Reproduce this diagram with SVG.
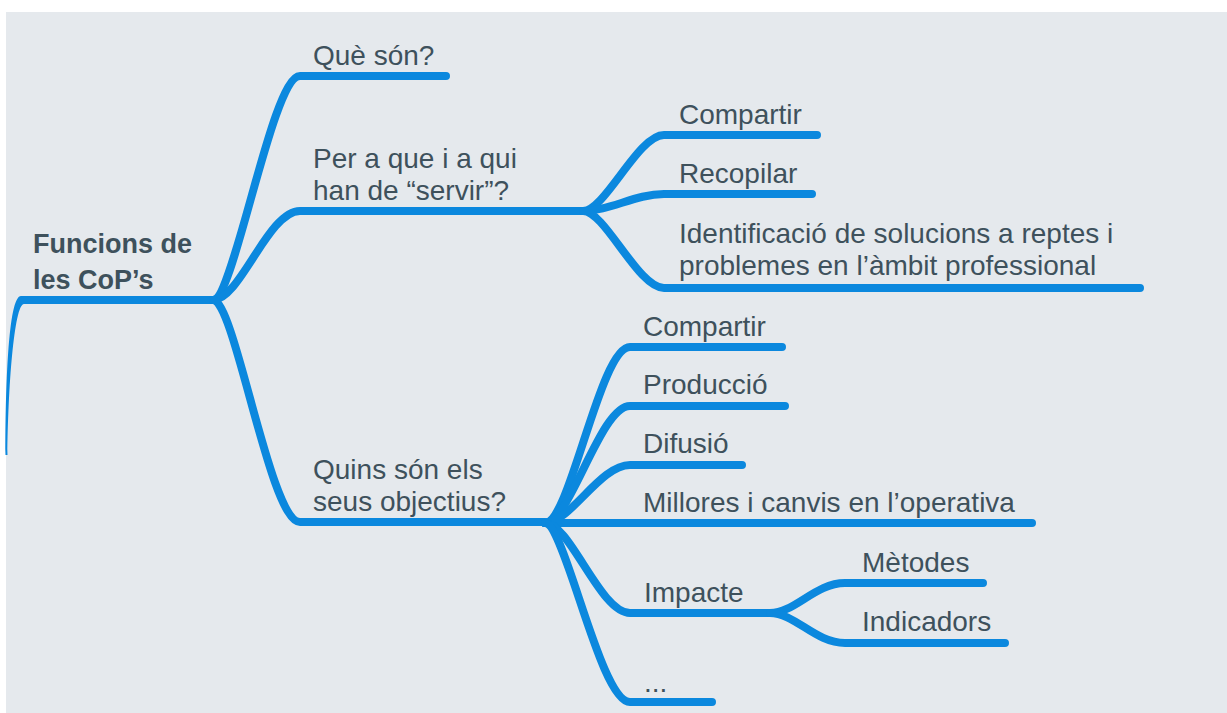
<svg xmlns="http://www.w3.org/2000/svg" width="1227" height="713" viewBox="0 0 1227 713">
<style>
.bg{fill:#e5e9ed}
.ln{fill:none;stroke:#0b88de;stroke-width:8;stroke-linecap:round;stroke-linejoin:round}
.t{font-family:"Liberation Sans",Arial,Helvetica,sans-serif;font-size:28px;fill:#3e515c}
.tr{font-family:"Liberation Sans",Arial,Helvetica,sans-serif;font-size:27px;font-weight:bold;fill:#3e515c}
</style>
<rect width="1227" height="713" fill="#ffffff"/>
<rect class="bg" x="6" y="12" width="1221" height="701"/>
<g id="connectors">
  <path d="M5.5,455 C5.5,390 8,296 21,296 L213,296 L213,304 L24,304 C14,304 8,390 7.5,455 Z" fill="#0b88de"/>
  <path class="ln" d="M213,300 C234,300 272,76 300,76 L446,76"/>
  <path class="ln" d="M213,300 C240,300 268,211 300,211 L583,211"/>
  <path class="ln" d="M213,300 C235,300 270,522 300,522 L545,522"/>
  <path class="ln" d="M583,211 C605,211 638,135 664,135 L817,135"/>
  <path class="ln" d="M583,211 C610,211 635,194 664,194 L812,194"/>
  <path class="ln" d="M583,211 C605,211 638,288 664,288 L1140,288"/>
  <path class="ln" d="M545,523 C570,523 600,347 630,347 L782,347"/>
  <path class="ln" d="M545,523 C570,523 600,406 630,406 L785,406"/>
  <path class="ln" d="M545,523 C570,523 600,465 630,465 L742,465"/>
  <path class="ln" d="M545,523 L1032,523"/>
  <path class="ln" d="M545,523 C570,523 600,613 630,613 L770,613"/>
  <path class="ln" d="M545,523 C565,523 600,702 630,702 L712,702"/>
  <path class="ln" d="M770,613 C795,613 815,583 845,583 L983,583"/>
  <path class="ln" d="M770,613 C795,613 815,643 845,643 L1005,643"/>
</g>
<g id="root"><text class="tr" x="33" y="253">Funcions de</text><text class="tr" x="33" y="289">les CoP’s</text></g>
<g id="que-son"><text class="t" x="313" y="65">Què són?</text></g>
<g id="per-a-que"><text class="t" x="313" y="168">Per a que i a qui</text><text class="t" x="313" y="200">han de “servir”?</text></g>
<g id="objectius"><text class="t" x="313" y="479">Quins són els</text><text class="t" x="313" y="511">seus objectius?</text></g>
<g id="compartir1"><text class="t" x="679" y="124">Compartir</text></g>
<g id="recopilar"><text class="t" x="679" y="183">Recopilar</text></g>
<g id="identificacio"><text class="t" x="679" y="243">Identificació de solucions a reptes i</text><text class="t" x="679" y="275">problemes en l’àmbit professional</text></g>
<g id="compartir2"><text class="t" x="643" y="336">Compartir</text></g>
<g id="produccio"><text class="t" x="643" y="394">Producció</text></g>
<g id="difusio"><text class="t" x="643" y="453">Difusió</text></g>
<g id="millores"><text class="t" x="643" y="512">Millores i canvis en l’operativa</text></g>
<g id="impacte"><text class="t" x="644" y="602">Impacte</text></g>
<g id="metodes"><text class="t" x="862" y="572">Mètodes</text></g>
<g id="indicadors"><text class="t" x="862" y="631">Indicadors</text></g>
<g id="etc"><text class="t" x="644" y="692">...</text></g>
</svg>
